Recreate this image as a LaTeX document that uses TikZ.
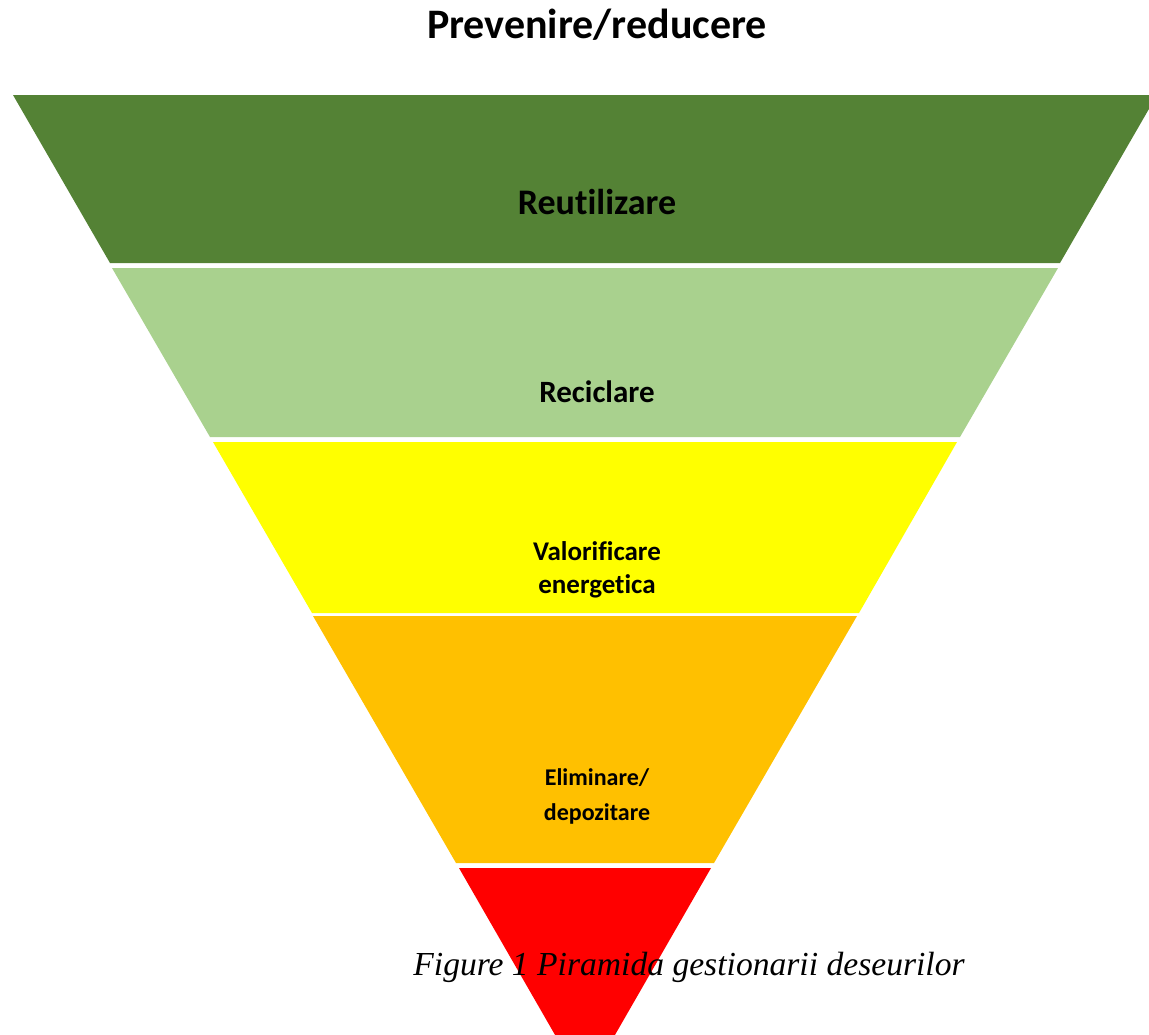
\documentclass[tikz,border=0pt]{standalone}
\usepackage{fontspec}
\setmainfont{Liberation Serif}
\newfontfamily\calibri[Ligatures=NoCommon]{Carlito}

\definecolor{reuse}{HTML}{548235}
\definecolor{recycle}{HTML}{A9D18E}
\definecolor{energy}{HTML}{FFFF00}
\definecolor{dispose}{HTML}{FFC000}
\definecolor{prevent}{HTML}{FF0000}

\begin{document}
\begin{tikzpicture}[
  x=0.5pt, y=-0.5pt,
  lvl/.style={font=\calibri\bfseries, align=center, inner sep=0pt},
]

\useasboundingbox (0,0) rectangle (1149,1034);
\clip (0,0) rectangle (1149,1034);

% bands of the pyramid, top to bottom
\fill [reuse] (13,95) -- (1157,95) -- (1060,263) -- (110,263) -- cycle;
\fill [recycle] (112,268) -- (1058,268) -- (960,437) -- (210,437) -- cycle;
\fill [energy] (213,442) -- (957,442) -- (859,613) -- (312,613) -- cycle;
\fill [dispose] (313,616) -- (857,616) -- (714,863) -- (456,863) -- cycle;
\fill [prevent] (459,868) -- (711,868) -- (585,1087) -- cycle;

\node [lvl, font=\calibri\bfseries\fontsize{21pt}{25pt}\selectfont] (top) at (597,25) {Prevenire/reducere};
\node [lvl, font=\calibri\bfseries\fontsize{18pt}{22pt}\selectfont] (reu) at (597,202) {Reutilizare};
\node [lvl, font=\calibri\bfseries\fontsize{15.5pt}{18pt}\selectfont] (rec) at (597,392) {Reciclare};
\node [lvl, font=\calibri\bfseries\fontsize{13.5pt}{16.5pt}\selectfont] (val) at (597,570) {Valorificare\\energetica};
\node [lvl, font=\calibri\bfseries\fontsize{12pt}{17.5pt}\selectfont] (eli) at (597,796) {Eliminare/\\depozitare};

\node [anchor=base west, inner sep=0pt, font=\itshape\fontsize{16.8pt}{20pt}\selectfont] (cap) at (413,975) {Figure 1 Piramida gestionarii deseurilor};

\end{tikzpicture}
\end{document}
